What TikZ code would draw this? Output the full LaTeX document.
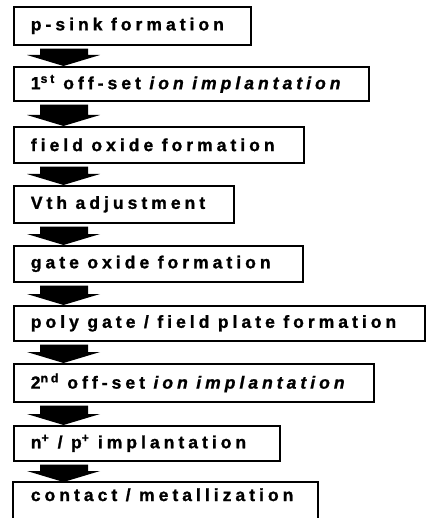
\documentclass[tikz,border=0pt]{standalone}
\usepackage{fontspec}
\newfontfamily\lab[LetterSpace=23, FakeBold=1.2, ItalicFont={Liberation Sans Bold Italic}]{Liberation Sans Bold}
\usetikzlibrary{calc}
\newcommand\ws{\hspace{8.5pt}}
\tikzset{
  stepbox/.style={draw=black, line width=1.7pt, anchor=north west, inner xsep=17pt, inner ysep=0pt,
    align=left, font=\lab\fontsize{17.5}{20}\selectfont, text=black},
  flowfill/.style={fill=black},
}
\newcommand\flowarrow[2]{%
  \fill[flowfill] let \p1=(#1.south west), \p2=(#2.north west) in
    (\x1+27pt,\y1-3pt) rectangle (\x1+75pt,\y2+11pt)
    (\x1+14pt,\y2+11pt) -- (\x1+87pt,\y2+11pt) -- (\x1+50.5pt,\y2) -- cycle;}
\begin{document}
\begin{tikzpicture}[x=1pt,y=1pt]
\useasboundingbox (0,0) rectangle (428,-518);
\fill[white] (0,0) rectangle (428,-518);
\node[stepbox, text width=203pt, minimum height=38pt] (b1) at (13,-6) {\mbox{p-sink\ws formation}};
\node[stepbox, text width=321pt, minimum height=34pt] (b2) at (13,-66) {\mbox{1\textsuperscript{st}\ws off-set\ws {\itshape ion\ws implantation}}};
\node[stepbox, text width=256pt, minimum height=36pt] (b3) at (13,-126) {\mbox{field\ws oxide\ws formation}};
\node[stepbox, text width=186pt, minimum height=37pt] (b4) at (13,-185) {\mbox{Vth\ws adjustment}};
\node[stepbox, text width=255pt, minimum height=36pt] (b5) at (13,-245) {\mbox{gate\ws oxide\ws formation}};
\node[stepbox, text width=377pt, minimum height=35pt] (b6) at (13,-305) {\mbox{poly\ws gate\ws /\ws field\ws plate\ws formation}};
\node[stepbox, text width=326pt, minimum height=38pt] (b7) at (13,-363) {\mbox{2\textsuperscript{nd}\ws off-set\ws {\itshape ion\ws implantation}}};
\node[stepbox, text width=232pt, minimum height=35pt] (b8) at (13,-425) {\mbox{n\textsuperscript{+}\ws /\ws p\textsuperscript{+}\ws implantation}};
\node[stepbox, draw=none, text width=269pt, minimum height=24pt] (b9) at (13,-482) {\mbox{contact\ws /\ws metallization}};
\coordinate (bot) at (0,-522);
\draw[line width=1.7pt] (b9.north west |- bot) -- (b9.north west) -- (b9.north east) -- (b9.north east |- bot);
\flowarrow{b1}{b2}
\flowarrow{b2}{b3}
\flowarrow{b3}{b4}
\flowarrow{b4}{b5}
\flowarrow{b5}{b6}
\flowarrow{b6}{b7}
\flowarrow{b7}{b8}
\flowarrow{b8}{b9}
\end{tikzpicture}
\end{document}
